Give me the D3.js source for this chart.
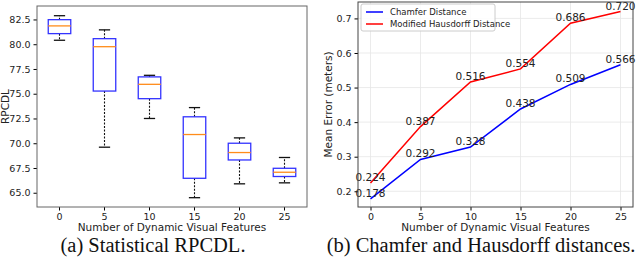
<!DOCTYPE html>
<html>
<head>
<meta charset="utf-8">
<script src="https://cdn.jsdelivr.net/npm/d3@7"></script>
<style>
  body { margin: 0; background: #fff; }
  svg { display: block; }
  .tick text { font-family: "DejaVu Sans", sans-serif; font-size: 9.5px; fill: #222; }
  .lbl { font-family: "DejaVu Sans", sans-serif; font-size: 10.5px; fill: #222; }
  .cap { font-family: "Liberation Serif", "Times New Roman", serif; font-size: 20.5px; fill: #111; }
</style>
</head>
<body>
<svg id="chart" width="640" height="262"></svg>
<script>
// left: box stats per number of features
const features = [0, 5, 10, 15, 20, 25];
const whiskerLow = [80.4, 69.6, 72.5, 64.5, 65.9, 66.0];
const q1 = [81.07, 75.27, 74.5, 66.46, 68.31, 66.64];
const median = [81.85, 79.75, 75.95, 70.88, 69.06, 67.07];
const q3 = [82.48, 80.56, 76.7, 72.67, 70.0, 67.47];
const whiskerHigh = [82.88, 81.45, 76.86, 73.6, 70.54, 68.56];
const leftTicks = [65.0, 67.5, 70.0, 72.5, 75.0, 77.5, 80.0, 82.5];

// right: mean error lines
const chamfer = [0.178, 0.292, 0.328, 0.438, 0.509, 0.566];
const hausdorff = [0.224, 0.387, 0.516, 0.554, 0.686, 0.720];
const rightYTicks = [0.2, 0.3, 0.4, 0.5, 0.6, 0.7];
const rightXTicks = [0, 5, 10, 15, 20, 25];

const svg = d3.select('#chart');

// ---------- left box plot ----------
const L = { left: 37, right: 307, top: 6, bottom: 207 };
const xL = d3.scaleBand().domain(features).range([L.left, L.right]).paddingInner(0.5).paddingOuter(0.25);
const yL = d3.scaleLinear().domain([63.56, 83.86]).range([L.bottom, L.top]);

const gL = svg.append('g');
gL.append('g')
  .attr('transform', `translate(0,${L.bottom})`)
  .call(d3.axisBottom(xL).tickSize(3.5).tickPadding(2.5))
  .call(g => g.select('.domain').remove());
gL.append('g')
  .attr('transform', `translate(${L.left},0)`)
  .call(d3.axisLeft(yL).tickValues(leftTicks).tickFormat(d3.format('.1f')).tickSize(3.5).tickPadding(3))
  .call(g => g.select('.domain').remove());

const boxes = gL.selectAll('.box').data(features).enter().append('g');
const cx = d => xL(d) + xL.bandwidth() / 2;
const bw = xL.bandwidth();

// whiskers
boxes.append('line')
  .attr('x1', cx).attr('x2', cx)
  .attr('y1', (d, i) => yL(q3[i])).attr('y2', (d, i) => yL(whiskerHigh[i]))
  .attr('stroke', '#111').attr('stroke-width', 1.1).attr('stroke-dasharray', '2,1.5');
boxes.append('line')
  .attr('x1', cx).attr('x2', cx)
  .attr('y1', (d, i) => yL(q1[i])).attr('y2', (d, i) => yL(whiskerLow[i]))
  .attr('stroke', '#111').attr('stroke-width', 1.1).attr('stroke-dasharray', '2,1.5');
// caps
boxes.append('line')
  .attr('x1', d => cx(d) - bw / 4).attr('x2', d => cx(d) + bw / 4)
  .attr('y1', (d, i) => yL(whiskerHigh[i])).attr('y2', (d, i) => yL(whiskerHigh[i]))
  .attr('stroke', '#111').attr('stroke-width', 1.3);
boxes.append('line')
  .attr('x1', d => cx(d) - bw / 4).attr('x2', d => cx(d) + bw / 4)
  .attr('y1', (d, i) => yL(whiskerLow[i])).attr('y2', (d, i) => yL(whiskerLow[i]))
  .attr('stroke', '#111').attr('stroke-width', 1.3);
// box
boxes.append('rect')
  .attr('x', d => xL(d)).attr('width', bw)
  .attr('y', (d, i) => yL(q3[i]))
  .attr('height', (d, i) => yL(q1[i]) - yL(q3[i]))
  .attr('fill', 'none').attr('stroke', '#3333ff').attr('stroke-width', 1.3);
// median
boxes.append('line')
  .attr('x1', d => xL(d)).attr('x2', d => xL(d) + bw)
  .attr('y1', (d, i) => yL(median[i])).attr('y2', (d, i) => yL(median[i]))
  .attr('stroke', '#ff8c1a').attr('stroke-width', 1.3);

gL.append('rect')
  .attr('x', L.left).attr('y', L.top)
  .attr('width', L.right - L.left).attr('height', L.bottom - L.top)
  .attr('fill', 'none').attr('stroke', '#666').attr('stroke-width', 1);

gL.append('text').attr('class', 'lbl')
  .attr('x', (L.left + L.right) / 2).attr('y', 230.5)
  .attr('text-anchor', 'middle').text('Number of Dynamic Visual Features');
gL.append('text').attr('class', 'lbl')
  .attr('transform', `translate(9,${(L.top + L.bottom) / 2}) rotate(-90)`)
  .attr('text-anchor', 'middle').text('RPCDL');
gL.append('text').attr('class', 'cap')
  .attr('x', 153).attr('y', 252).attr('text-anchor', 'middle').text('(a) Statistical RPCDL.');

// ---------- right line chart ----------
const R = { left: 358, right: 633, top: 2, bottom: 207 };
const xR = d3.scaleLinear().domain([-1.25, 26.25]).range([R.left, R.right]);
const yR = d3.scaleLinear().domain([0.1545, 0.7475]).range([R.bottom, R.top]);

const gR = svg.append('g');
// grid
gR.append('g').selectAll('line').data(rightXTicks).enter().append('line')
  .attr('x1', d => xR(d)).attr('x2', d => xR(d)).attr('y1', R.top).attr('y2', R.bottom)
  .attr('stroke', '#e6e6e6').attr('stroke-width', 0.8);
gR.append('g').selectAll('line').data(rightYTicks).enter().append('line')
  .attr('x1', R.left).attr('x2', R.right).attr('y1', d => yR(d)).attr('y2', d => yR(d))
  .attr('stroke', '#e6e6e6').attr('stroke-width', 0.8);

gR.append('g')
  .attr('transform', `translate(0,${R.bottom})`)
  .call(d3.axisBottom(xR).tickValues(rightXTicks).tickSize(3.5).tickPadding(2.5))
  .call(g => g.select('.domain').remove());
gR.append('g')
  .attr('transform', `translate(${R.left},0)`)
  .call(d3.axisLeft(yR).tickValues(rightYTicks).tickFormat(d3.format('.1f')).tickSize(3.5).tickPadding(3))
  .call(g => g.select('.domain').remove());

const line = d3.line().x((d, i) => xR(features[i])).y(d => yR(d));
gR.append('path').datum(hausdorff).attr('d', line)
  .attr('fill', 'none').attr('stroke', '#ff0000').attr('stroke-width', 1.5);
gR.append('path').datum(chamfer).attr('d', line)
  .attr('fill', 'none').attr('stroke', '#0000ff').attr('stroke-width', 1.5);

[hausdorff, chamfer].forEach(series => {
  gR.append('g').selectAll('text').data(series).enter().append('text')
    .attr('class', 'lbl').style('font-size', '10.5px')
    .attr('x', (d, i) => xR(features[i]))
    .attr('y', d => yR(d) - 2)
    .attr('text-anchor', 'middle')
    .text(d => d3.format('.3f')(d));
});

gR.append('rect')
  .attr('x', R.left).attr('y', R.top)
  .attr('width', R.right - R.left).attr('height', R.bottom - R.top)
  .attr('fill', 'none').attr('stroke', '#444').attr('stroke-width', 1);

// legend
const leg = gR.append('g').attr('transform', `translate(${R.left + 3},${R.top + 2})`);
leg.append('rect').attr('width', 134).attr('height', 27).attr('rx', 2)
  .attr('fill', '#fff').attr('fill-opacity', 0.85).attr('stroke', '#ccc');
[['Chamfer Distance', '#0000ff'], ['Modified Hausdorff Distance', '#ff0000']].forEach(([name, col], i) => {
  const y = 8 + i * 12;
  leg.append('line').attr('x1', 5).attr('x2', 22).attr('y1', y).attr('y2', y)
    .attr('stroke', col).attr('stroke-width', 1.5);
  leg.append('text').attr('class', 'lbl').style('font-size', '8.5px')
    .attr('x', 29).attr('y', y + 3).text(name);
});

gR.append('text').attr('class', 'lbl')
  .attr('x', (R.left + R.right) / 2).attr('y', 230.5)
  .attr('text-anchor', 'middle').text('Number of Dynamic Visual Features');
gR.append('text').attr('class', 'lbl')
  .attr('transform', `translate(332,${(R.top + R.bottom) / 2}) rotate(-90)`)
  .attr('text-anchor', 'middle').text('Mean Error (meters)');
gR.append('text').attr('class', 'cap')
  .attr('x', 481).attr('y', 252).attr('text-anchor', 'middle').text('(b) Chamfer and Hausdorff distances.');
</script>
</body>
</html>
